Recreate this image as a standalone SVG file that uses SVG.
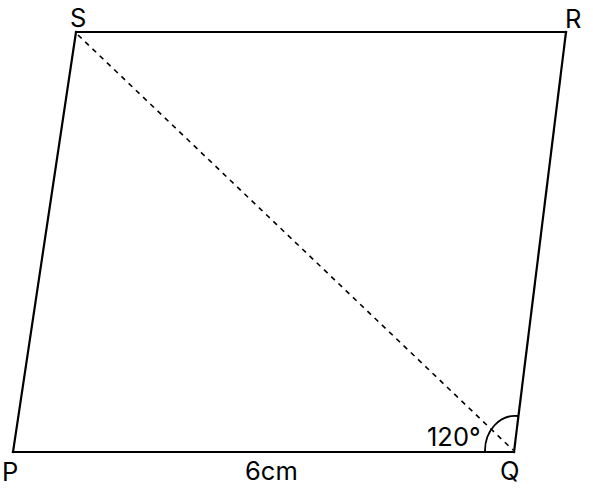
<svg xmlns="http://www.w3.org/2000/svg" width="593" height="488" viewBox="0 0 593 488">
<style>
.edge{stroke:#000;stroke-width:2.2;fill:none;stroke-linecap:square}
.dash{stroke:#000;stroke-width:1.6;fill:none;stroke-dasharray:5,5}
.lbl{font-family:Inter,"Liberation Sans",sans-serif;font-size:25.5px;fill:#000}
</style>
<rect width="593" height="488" fill="#fff"/>
<g id="connectors">
<line class="edge" x1="13" y1="452" x2="514" y2="452"/>
<line class="edge" x1="514" y1="452" x2="566" y2="32"/>
<line class="edge" x1="566" y1="32" x2="76" y2="32"/>
<line class="edge" x1="76" y1="32" x2="13" y2="452"/>
<line class="dash" x1="78" y1="35" x2="513" y2="450"/>
<path class="edge" style="stroke-width:1.8" d="M485 452 A30 35 0 0 1 517.5 416"/>
</g>
<g id="P"><text class="lbl" x="2" y="481">P</text></g>
<g id="Q"><text class="lbl" x="500" y="480">Q</text></g>
<g id="R"><text class="lbl" x="565" y="28">R</text></g>
<g id="S"><text class="lbl" x="70" y="27">S</text></g>
<g id="angle"><text class="lbl" x="427" y="446">120°</text></g>
<g id="side"><text class="lbl" x="245" y="480">6cm</text></g>
</svg>
